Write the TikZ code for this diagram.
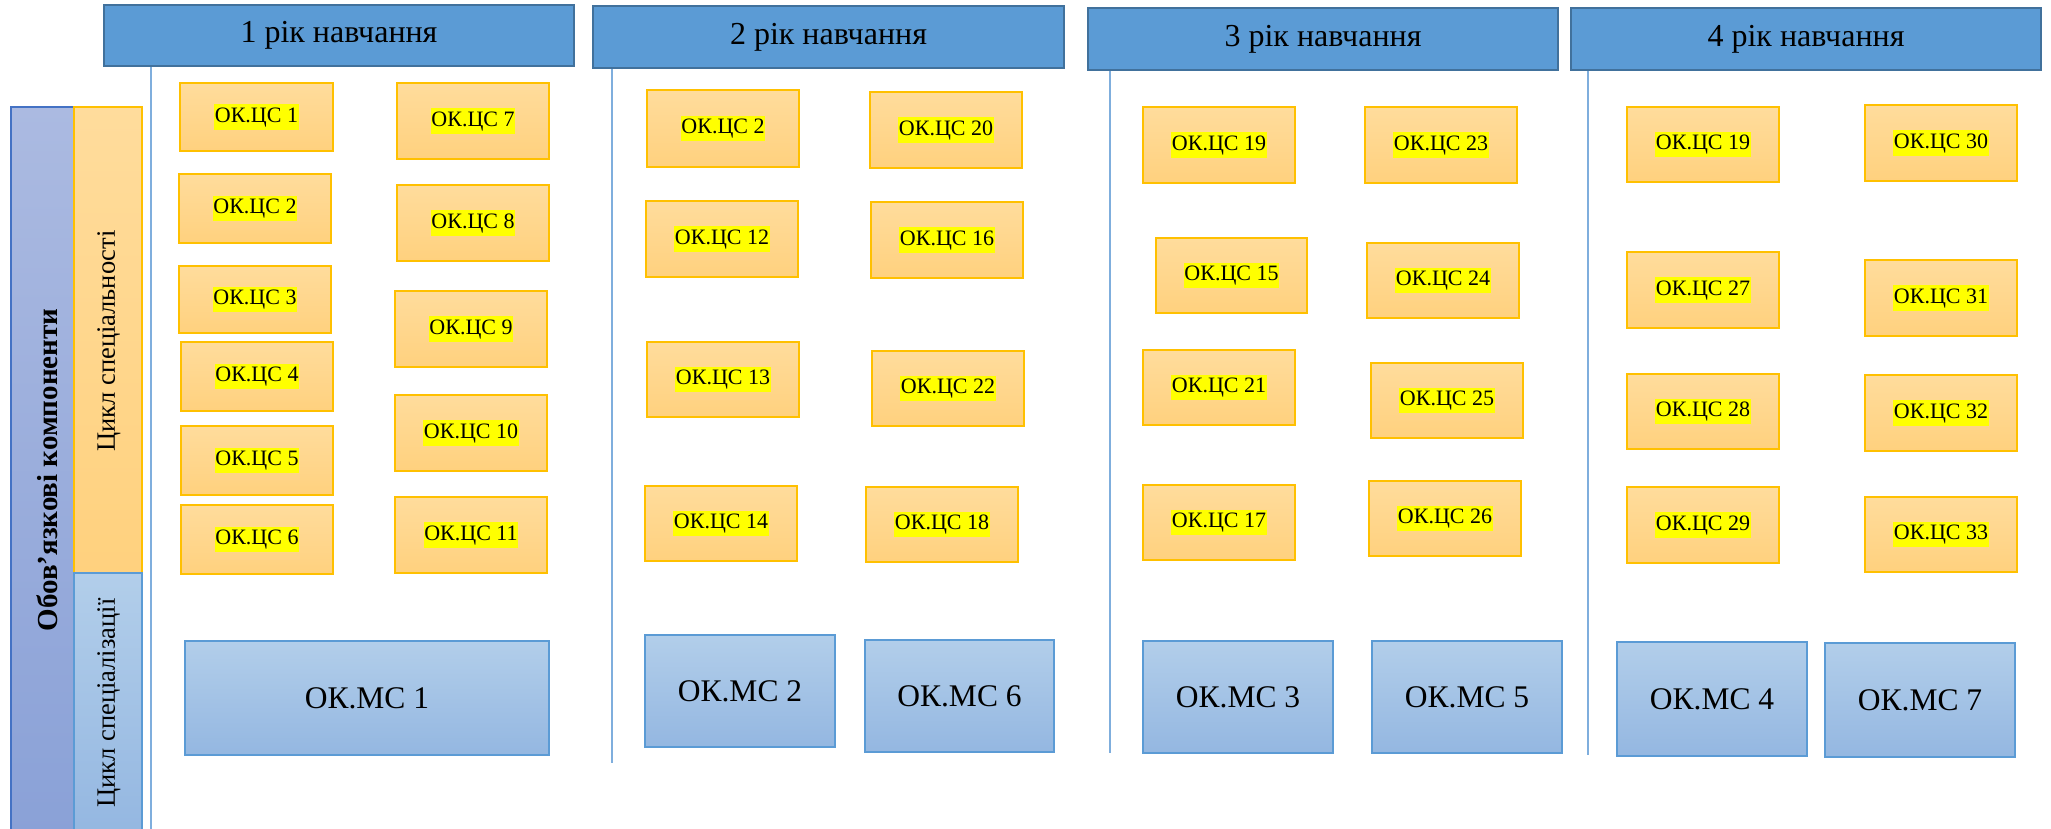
\documentclass[tikz,border=0pt]{standalone}
\usepackage{fontspec}
\setmainfont{Liberation Serif}
\definecolor{cstop}{HTML}{FFDC9C}
\definecolor{csbot}{HTML}{FFD17E}
\definecolor{csborder}{HTML}{FFC000}
\definecolor{mstop}{HTML}{B2CEEA}
\definecolor{msbot}{HTML}{94B7E1}
\definecolor{msborder}{HTML}{5B9BD5}
\definecolor{hdrfill}{HTML}{5B9BD5}
\definecolor{hdrborder}{HTML}{41719C}
\definecolor{outtop}{HTML}{ABBAE1}
\definecolor{outbot}{HTML}{8AA1D7}
\definecolor{outborder}{HTML}{4472C4}
\definecolor{vlinecol}{HTML}{7FAEDD}
\definecolor{hlyellow}{HTML}{FFFF00}
\newcommand{\hlt}[1]{{\setlength{\fboxsep}{0pt}\colorbox{hlyellow}{\kern0.6pt\strut #1\kern0.6pt}}}
\tikzset{
  csbox/.style={draw=csborder, line width=1.5pt, top color=cstop, bottom color=csbot, inner sep=0pt,
    font=\fontsize{22}{25.5}\selectfont},
  msbox/.style={draw=msborder, line width=1.5pt, top color=mstop, bottom color=msbot, inner sep=0pt,
    font=\fontsize{31.5}{38}\selectfont},
  hdr/.style={draw=hdrborder, line width=2.5pt, fill=hdrfill, inner sep=0pt,
    font=\fontsize{32}{38}\selectfont},
  vline/.style={draw=vlinecol, line width=1.5pt},
  sidetext/.style={rotate=90, inner sep=0pt, font=\fontsize{26.5}{30}\selectfont},
}
\newcommand{\csnode}[6]{\node[csbox, minimum width={(#4-#2)*1pt}, minimum height={(#5-#3)*1pt}] (#1) at ({(#2+#4)/2},{(#3+#5)/2}) {\hlt{ОК.ЦС #6}};}
\newcommand{\msnode}[6]{\node[msbox, minimum width={(#4-#2)*1pt}, minimum height={(#5-#3)*1pt}] (#1) at ({(#2+#4)/2},{(#3+#5)/2}) {ОК.МС #6};}
\newcommand{\hdrnode}[6]{\node[hdr, minimum width={(#4-#2)*1pt}, minimum height={(#5-#3)*1pt}] (#1) at ({(#2+#4)/2},{(#3+#5)/2}) {#6 рік навчання};}
\begin{document}
\begin{tikzpicture}[x=1pt,y=-1pt]
\useasboundingbox (0,0) rectangle (2051,829);
\fill[white] (0,0) rectangle (2051,829);

% left panels
\path[draw=outborder, line width=1.5pt, top color=outtop, bottom color=outbot] (11,107) rectangle (74,835);
\path[draw=csborder, line width=1.5pt, top color=cstop, bottom color=csbot] (74,107) rectangle (142,573);
\path[draw=msborder, line width=1.5pt, top color=mstop, bottom color=msbot] (74,573) rectangle (142,835);
\node[sidetext, font=\bfseries\fontsize{29}{33}\selectfont] (oblig) at (47,470) {Обов’язкові компоненти};
\node[sidetext] (cspec) at (109,341) {Цикл спеціальності};
\node[sidetext] (cspecz) at (109,703) {Цикл спеціалізації};

% headers
\hdrnode{h1}{104}{5}{574}{66}{1}
\hdrnode{h2}{593}{6}{1064}{68}{2}
\hdrnode{h3}{1088}{8}{1558}{70}{3}
\hdrnode{h4}{1571}{8}{2041}{70}{4}

% vertical lines
\coordinate (v1e) at (151,829);
\coordinate (v2e) at (612,763);
\coordinate (v3e) at (1110,753);
\coordinate (v4e) at (1588,755);
\draw[vline] (h1.south -| v1e) -- (v1e);
\draw[vline] (h2.south -| v2e) -- (v2e);
\draw[vline] (h3.south -| v3e) -- (v3e);
\draw[vline] (h4.south -| v4e) -- (v4e);

% year 1
\csnode{a1}{180}{83}{333}{151}{1}
\csnode{a7}{397}{83}{549}{159}{7}
\csnode{a2}{179}{174}{331}{243}{2}
\csnode{a8}{397}{185}{549}{261}{8}
\csnode{a3}{179}{266}{331}{333}{3}
\csnode{a9}{395}{291}{547}{367}{9}
\csnode{a4}{181}{342}{333}{411}{4}
\csnode{a10}{395}{395}{547}{471}{10}
\csnode{a5}{181}{426}{333}{495}{5}
\csnode{a6}{181}{505}{333}{574}{6}
\csnode{a11}{395}{497}{547}{573}{11}
\msnode{m1}{185}{641}{549}{755}{1}

% year 2
\csnode{b2}{647}{90}{799}{167}{2}
\csnode{b20}{870}{92}{1022}{168}{20}
\csnode{b12}{646}{201}{798}{277}{12}
\csnode{b16}{871}{202}{1023}{278}{16}
\csnode{b13}{647}{342}{799}{417}{13}
\csnode{b22}{872}{351}{1024}{426}{22}
\csnode{b14}{645}{486}{797}{561}{14}
\csnode{b18}{866}{487}{1018}{562}{18}
\msnode{m2}{645}{635}{835}{747}{2}
\msnode{m6}{865}{640}{1054}{752}{6}

% year 3
\csnode{c19}{1143}{107}{1295}{183}{19}
\csnode{c23}{1365}{107}{1517}{183}{23}
\csnode{c15}{1156}{238}{1307}{313}{15}
\csnode{c24}{1367}{243}{1519}{318}{24}
\csnode{c21}{1143}{350}{1295}{425}{21}
\csnode{c25}{1371}{363}{1523}{438}{25}
\csnode{c17}{1143}{485}{1295}{560}{17}
\csnode{c26}{1369}{481}{1521}{556}{26}
\msnode{m3}{1143}{641}{1333}{753}{3}
\msnode{m5}{1372}{641}{1562}{753}{5}

% year 4
\csnode{d19}{1627}{107}{1779}{182}{19}
\csnode{d30}{1865}{105}{2017}{181}{30}
\csnode{d27}{1627}{252}{1779}{328}{27}
\csnode{d31}{1865}{260}{2017}{336}{31}
\csnode{d28}{1627}{374}{1779}{449}{28}
\csnode{d32}{1865}{375}{2017}{451}{32}
\csnode{d29}{1627}{487}{1779}{563}{29}
\csnode{d33}{1865}{497}{2017}{572}{33}
\msnode{m4}{1617}{642}{1807}{756}{4}
\msnode{m7}{1825}{643}{2015}{757}{7}
\end{tikzpicture}
\end{document}
